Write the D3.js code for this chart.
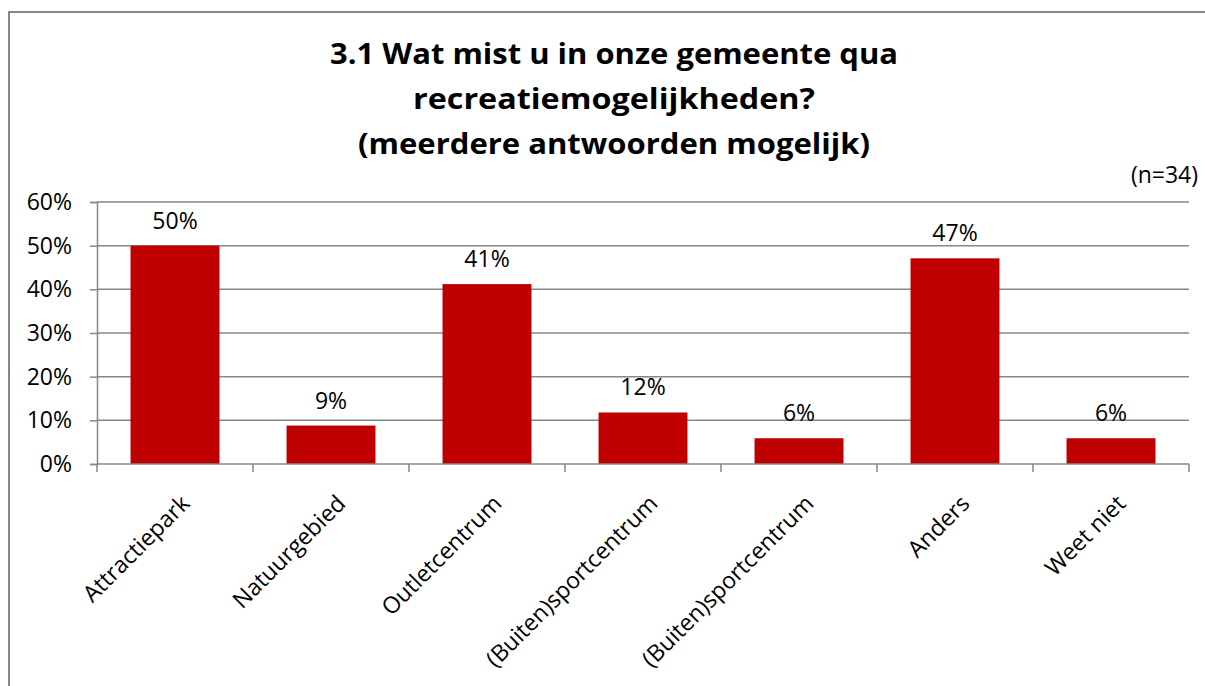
<!DOCTYPE html>
<html>
<head>
<meta charset="utf-8">
<script src="https://cdn.jsdelivr.net/npm/d3@7"></script>
<style>
  html, body { margin: 0; padding: 0; background: #fff; }
  svg text { font-family: "Open Sans", "DejaVu Sans", sans-serif; fill: #000; }
</style>
</head>
<body>
<svg id="chart" width="1205" height="686"></svg>
<script>
'use strict';

// ── Data ─────────────────────────────────────────────────────────────────
const categories = ['Attractiepark', 'Natuurgebied', 'Outletcentrum', '(Buiten)sportcentrum',
                    '(Buiten)sportcentrum', 'Anders', 'Weet niet'];
const values     = [0.50, 0.088, 0.412, 0.118, 0.059, 0.471, 0.059];
const valueLabels = ['50%', '9%', '41%', '12%', '6%', '47%', '6%'];
const yTicks     = [0, 0.1, 0.2, 0.3, 0.4, 0.5, 0.6];
const titleLines = ['3.1 Wat mist u in onze gemeente qua', 'recreatiemogelijkheden?',
                    '(meerdere antwoorden mogelijk)'];
const note       = '(n=34)';

const svg = d3.select('#chart');
const W = 1205, H = 686;
const plot = { left: 97, right: 1189, top: 202, bottom: 464 };

// ── Outer border ─────────────────────────────────────────────────────────
svg.append('rect')
  .attr('x', 9).attr('y', 12).attr('width', W + 20).attr('height', H + 20)
  .attr('fill', '#fff').attr('stroke', '#878787').attr('stroke-width', 2);

// ── Title ────────────────────────────────────────────────────────────────
const titleW = [568, 402, 512];
svg.append('g').selectAll('text')
  .data(titleLines).join('text')
  .attr('x', 614)
  .attr('y', (d, i) => 64 + i * 45)
  .attr('text-anchor', 'middle')
  .attr('font-size', 28)
  .attr('font-weight', 'bold')
  .attr('textLength', (d, i) => titleW[i])
  .attr('lengthAdjust', 'spacingAndGlyphs')
  .text(d => d);

svg.append('text')
  .attr('x', 1198).attr('y', 183)
  .attr('text-anchor', 'end')
  .attr('font-size', 23)
  .text(note);

// ── Scales ───────────────────────────────────────────────────────────────
const x = d3.scaleBand()
  .domain(d3.range(categories.length))
  .range([plot.left, plot.right])
  .paddingInner(0.43).paddingOuter(0.215);
const y = d3.scaleLinear().domain([0, 0.6]).range([plot.bottom, plot.top]);

// ── Gridlines ────────────────────────────────────────────────────────────
svg.append('g').selectAll('line')
  .data(yTicks.filter(t => t > 0)).join('line')
  .attr('x1', plot.left).attr('x2', plot.right)
  .attr('y1', d => y(d)).attr('y2', d => y(d))
  .attr('stroke', '#878787').attr('stroke-width', 1.5);

// ── Y axis ───────────────────────────────────────────────────────────────
const yAxis = svg.append('g')
  .attr('transform', `translate(${plot.left},0)`)
  .call(d3.axisLeft(y).tickValues(yTicks).tickFormat(d3.format('.0%')).tickSize(7).tickPadding(18));
yAxis.selectAll('path, line').attr('stroke', '#878787').attr('stroke-width', 1.5);
yAxis.selectAll('text').attr('font-size', 23).attr('fill', '#000')
  .style('font-family', '"Open Sans", sans-serif');

// ── Bars ─────────────────────────────────────────────────────────────────
svg.append('g').selectAll('rect')
  .data(values).join('rect')
  .attr('x', (d, i) => x(i))
  .attr('width', x.bandwidth())
  .attr('y', d => y(d))
  .attr('height', d => y(0) - y(d))
  .attr('fill', '#C00000');

svg.append('g').selectAll('text')
  .data(values).join('text')
  .attr('x', (d, i) => x(i) + x.bandwidth() / 2)
  .attr('y', d => y(d) - 17)
  .attr('text-anchor', 'middle')
  .attr('font-size', 23)
  .text((d, i) => valueLabels[i]);

// ── X axis ───────────────────────────────────────────────────────────────
const step = (plot.right - plot.left) / categories.length;
const xAxis = svg.append('g');
xAxis.append('line')
  .attr('x1', plot.left).attr('x2', plot.right)
  .attr('y1', plot.bottom).attr('y2', plot.bottom)
  .attr('stroke', '#878787').attr('stroke-width', 1.5);
xAxis.selectAll('line.tick')
  .data(d3.range(categories.length + 1)).join('line')
  .attr('class', 'tick')
  .attr('x1', i => plot.left + i * step).attr('x2', i => plot.left + i * step)
  .attr('y1', plot.bottom).attr('y2', plot.bottom + 8)
  .attr('stroke', '#878787').attr('stroke-width', 1.5);

xAxis.selectAll('text')
  .data(categories).join('text')
  .attr('text-anchor', 'end')
  .attr('font-size', 23)
  .attr('transform', (d, i) => `translate(${x(i) + x.bandwidth() / 2 + 16},505) rotate(-45)`)
  .text(d => d);
</script>
</body>
</html>
